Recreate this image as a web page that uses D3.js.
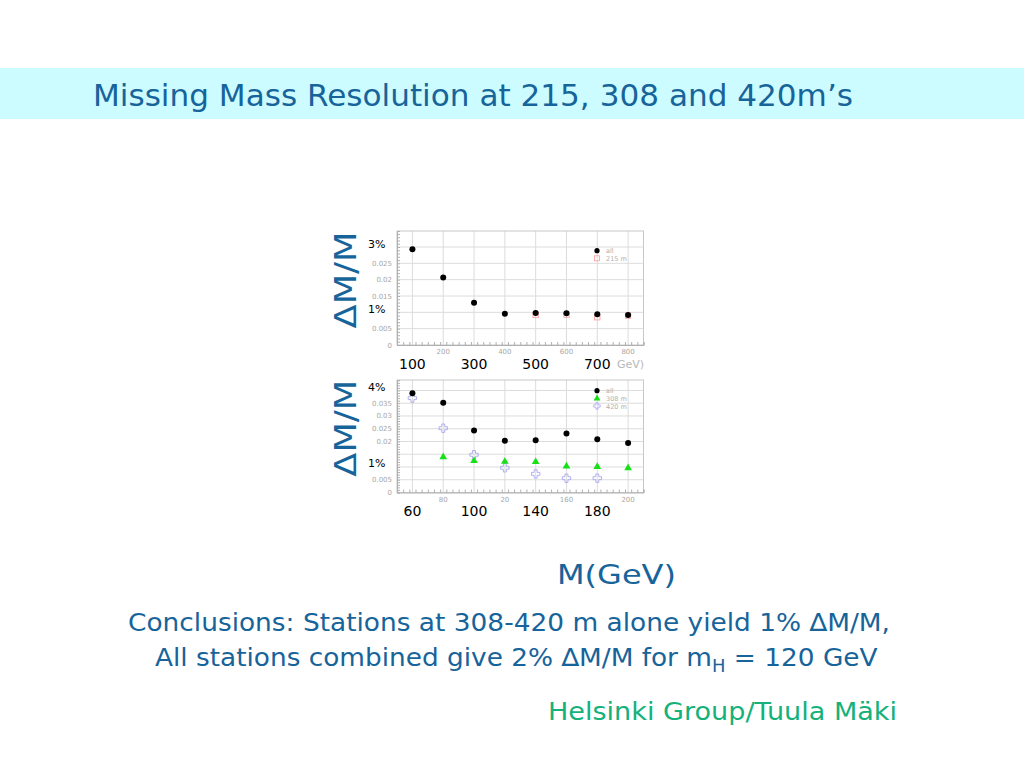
<!DOCTYPE html>
<html><head><meta charset="utf-8">
<script src="https://cdn.jsdelivr.net/npm/d3@7"></script>
<style>body{margin:0;background:#fff}svg{display:block}</style>
</head><body>
<script>
// ---- data ----
const massTop = [100, 200, 300, 400, 500, 600, 700, 800];
const allTop = [0.0293, 0.0207, 0.0129, 0.0096, 0.0098, 0.0097, 0.0094, 0.0092];
const mass215 = [500, 600, 700, 800];
const res215 = [0.0092, 0.0093, 0.0085, 0.0090];

const massBot = [60, 80, 100, 120, 140, 160, 180, 200];
const allBot = [0.0389, 0.0352, 0.0243, 0.0203, 0.0205, 0.0231, 0.0209, 0.0194];
const mass308 = [80, 100, 120, 140, 160, 180, 200];
const res308 = [0.0139, 0.0124, 0.0121, 0.0120, 0.0103, 0.0101, 0.0096];
const mass420 = [60, 80, 100, 120, 140, 160, 180];
const res420 = [0.0370, 0.0252, 0.0148, 0.0097, 0.0073, 0.0056, 0.0056];

const topGrayX = [200, 400, 600, 800];
const topBigX = [100, 300, 500, 700];
const topGrayY = [0, 0.005, 0.015, 0.02, 0.025];
const topPctY = [[0.03, "3%"], [0.01, "1%"]];
const botGrayX = [[80, "80"], [120, "20"], [160, "160"], [200, "200"]];
const botBigX = [60, 100, 140, 180];
const botGrayY = [0, 0.005, 0.02, 0.025, 0.03, 0.035];
const botPctY = [[0.04, "4%"], [0.01, "1%"]];

const blue = "#17649b";
const svg = d3.select("body").append("svg").attr("width", 1024).attr("height", 768);
const font = "'DejaVu Sans', sans-serif";

// title band
svg.append("rect").attr("x", 0).attr("y", 68).attr("width", 1024).attr("height", 51).attr("fill", "#ccfcff");
svg.append("text").attr("x", 93).attr("y", 106).attr("font-family", font).attr("font-size", 30)
  .attr("fill", blue).attr("textLength", 760).attr("lengthAdjust", "spacingAndGlyphs")
  .text("Missing Mass Resolution at 215, 308 and 420m’s");

function panel(cfg) {
  const x = d3.scaleLinear().domain(cfg.xd).range([397, 643.5]);
  const y = d3.scaleLinear().domain(cfg.yd).range([cfg.y1, cfg.y0]);
  const g = svg.append("g");
  // grid
  g.selectAll(".vg").data(d3.range(cfg.xd[0] + cfg.xoff, cfg.xd[1], cfg.xstep)).join("line")
    .attr("x1", d => x(d)).attr("x2", d => x(d)).attr("y1", cfg.y0).attr("y2", cfg.y1)
    .attr("stroke", "#dcdcdc").attr("stroke-width", 1);
  g.selectAll(".hg").data(d3.range(0.005, cfg.yd[1], 0.005)).join("line")
    .attr("x1", 397).attr("x2", 643.5).attr("y1", d => y(d)).attr("y2", d => y(d))
    .attr("stroke", "#dcdcdc").attr("stroke-width", 1);
  // frame
  g.append("rect").attr("x", 397).attr("y", cfg.y0).attr("width", 246.5).attr("height", cfg.y1 - cfg.y0)
    .attr("fill", "none").attr("stroke", "#c8c8c8");
  // axes with minor ticks
  const xAx = d3.axisBottom(x).tickValues(d3.range(cfg.xd[0], cfg.xd[1] + 0.001, cfg.xstep / 5)).tickSize(-3).tickFormat("");
  const gx = g.append("g").attr("transform", `translate(0,${cfg.y1})`).call(xAx);
  gx.select(".domain").attr("stroke", "#b0b0b0");
  gx.selectAll(".tick line").attr("stroke", "#b0b0b0");
  const yAx = d3.axisLeft(y).tickValues(d3.range(0, cfg.yd[1], 0.001)).tickSize(-3).tickFormat("");
  const gy = g.append("g").attr("transform", "translate(397,0)").call(yAx);
  gy.select(".domain").attr("stroke", "#b0b0b0");
  gy.selectAll(".tick line").attr("stroke", "#b0b0b0");
  // gray labels
  g.selectAll(".gxl").data(cfg.grayX).join("text")
    .attr("x", d => x(d[0])).attr("y", cfg.y1 + 9).attr("text-anchor", "middle")
    .attr("font-family", font).attr("font-size", 7).attr("fill", "#a8a8a8").text(d => d[1]);
  g.selectAll(".gyl").data(cfg.grayY).join("text")
    .attr("x", 392).attr("y", d => y(d) + 2.5).attr("text-anchor", "end")
    .attr("font-family", font).attr("font-size", 7).attr("fill", "#a8a8a8").text(d => d === 0 ? "0" : d3.format("")(+d.toFixed(3)));
  g.selectAll(".pyl").data(cfg.pctY).join("text")
    .attr("x", 368).attr("y", d => y(d[0]) + 0.5).attr("text-anchor", "start")
    .attr("font-family", font).attr("font-size", 11).attr("fill", "#000").text(d => d[1]);
  g.selectAll(".bxl").data(cfg.bigX).join("text")
    .attr("x", d => x(d)).attr("y", cfg.y1 + 23.5).attr("text-anchor", "middle")
    .attr("font-family", font).attr("font-size", 14).attr("fill", "#000").text(d => d);
  // ΔM/M
  const cy = (cfg.y0 + cfg.y1) / 2 - 8;
  svg.append("text").attr("transform", `translate(356,${cy}) rotate(-90)`).attr("text-anchor", "middle")
    .attr("font-family", font).attr("font-size", 30).attr("fill", blue)
    .attr("textLength", 97).attr("lengthAdjust", "spacingAndGlyphs").text("ΔM/M");
  return {g, x, y};
}

function dots(p, xs, ys) {
  p.g.selectAll(null).data(xs).join("circle").attr("cx", d => p.x(d)).attr("cy", (d, i) => p.y(ys[i]))
    .attr("r", 3).attr("fill", "#000");
}
function legendText(p, yy, label) {
  p.g.append("text").attr("x", 606).attr("y", yy + 2.5).attr("font-family", font).attr("font-size", 6.5)
    .attr("fill", "#b0b0b0").text(label);
}
function crossPath(cx, cy, s) {
  const a = s, b = s * 0.35;
  return `M${cx - b},${cy - a}H${cx + b}V${cy - b}H${cx + a}V${cy + b}H${cx + b}V${cy + a}H${cx - b}V${cy + b}H${cx - a}V${cy - b}H${cx - b}Z`;
}

// top panel
const pTop = panel({xd: [50, 850], xoff: 50, xstep: 100, yd: [0, 0.0349], y0: 231, y1: 345,
  grayX: topGrayX.map(v => [v, String(v)]), grayY: topGrayY, pctY: topPctY, bigX: topBigX});
pTop.g.append("text").attr("x", 617).attr("y", 368).attr("font-family", font).attr("font-size", 11)
  .attr("fill", "#b8b8b8").text("GeV)");
pTop.g.selectAll(".sq").data(mass215).join("rect")
  .attr("x", d => pTop.x(d) - 2.7).attr("y", (d, i) => pTop.y(res215[i]) - 2.7).attr("width", 5.4).attr("height", 5.4)
  .attr("fill", "none").attr("stroke", "#ff9a9a").attr("stroke-width", 0.8);
dots(pTop, massTop, allTop);
pTop.g.append("circle").attr("cx", 597).attr("cy", 250.7).attr("r", 2.6).attr("fill", "#000");
pTop.g.append("rect").attr("x", 594.5).attr("y", 255.8).attr("width", 5).attr("height", 5).attr("fill", "none").attr("stroke", "#ff9a9a").attr("stroke-width", 0.8);
legendText(pTop, 250.7, "all");
legendText(pTop, 258.3, "215 m");

// bottom panel
const pBot = panel({xd: [50, 210], xoff: 10, xstep: 20, yd: [0, 0.0441], y0: 380, y1: 492.5,
  grayX: botGrayX, grayY: botGrayY, pctY: botPctY, bigX: botBigX});
pBot.g.selectAll(".cr").data(mass420).join("path")
  .attr("d", (d, i) => crossPath(pBot.x(d), pBot.y(res420[i]), 4.2))
  .attr("fill", "none").attr("stroke", "#a8a8f0").attr("stroke-width", 0.9);
pBot.g.selectAll(".tri").data(mass308).join("path")
  .attr("d", d3.symbol(d3.symbolTriangle, 26)())
  .attr("transform", (d, i) => `translate(${pBot.x(d)},${pBot.y(res308[i])})`)
  .attr("fill", "#16e016");
dots(pBot, massBot, allBot);
pBot.g.append("circle").attr("cx", 597).attr("cy", 390.7).attr("r", 2.6).attr("fill", "#000");
pBot.g.append("path").attr("d", d3.symbol(d3.symbolTriangle, 20)()).attr("transform", "translate(597,398.5)").attr("fill", "#16e016");
pBot.g.append("path").attr("d", crossPath(597, 406, 3.2)).attr("fill", "none").attr("stroke", "#a8a8f0").attr("stroke-width", 0.8);
legendText(pBot, 390.7, "all");
legendText(pBot, 398.5, "308 m");
legendText(pBot, 406, "420 m");

// texts
svg.append("text").attr("x", 557).attr("y", 584).attr("font-family", font).attr("font-size", 27)
  .attr("fill", blue).attr("textLength", 119).attr("lengthAdjust", "spacingAndGlyphs").text("M(GeV)");
svg.append("text").attr("x", 128).attr("y", 631).attr("font-family", font).attr("font-size", 25)
  .attr("fill", blue).attr("textLength", 762).attr("lengthAdjust", "spacingAndGlyphs")
  .text("Conclusions: Stations at 308-420 m alone yield 1% ∆M/M,");
const t2 = svg.append("text").attr("x", 155).attr("y", 666).attr("font-family", font).attr("font-size", 25)
  .attr("fill", blue);
t2.append("tspan").text("All stations combined give 2% ∆M/M for m");
t2.append("tspan").attr("font-size", 17).attr("dy", 6).text("H");
t2.append("tspan").attr("dy", -6).text(" = 120 GeV");
// fit second line width
const w2 = t2.node().getComputedTextLength();
t2.attr("transform", `translate(155,0) scale(${723 / w2},1) translate(-155,0)`);
svg.append("text").attr("x", 548).attr("y", 720).attr("font-family", font).attr("font-size", 24)
  .attr("fill", "#14b27a").attr("textLength", 349).attr("lengthAdjust", "spacingAndGlyphs")
  .text("Helsinki Group/Tuula Mäki");
</script>
</body></html>
